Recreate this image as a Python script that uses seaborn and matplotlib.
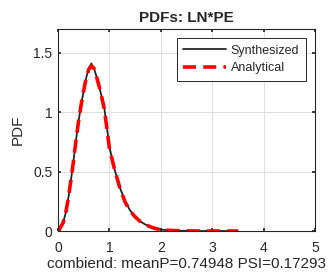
import numpy as np
import pandas as pd
import matplotlib
matplotlib.use("Agg")
import matplotlib.pyplot as plt
import seaborn as sns

# values
x_vals = [0.0, 0.05, 0.1, 0.15, 0.2, 0.25, 0.3, 0.35, 0.4, 0.45, 0.5, 0.55, 0.6, 0.65,
          0.7, 0.75, 0.8, 0.85, 0.9, 0.95, 1.0, 1.1, 1.2, 1.3, 1.4, 1.5, 1.6, 1.7,
          1.8, 1.9, 2.0, 2.2, 2.4, 2.6, 2.8, 3.0, 3.2, 3.5]
pdf_synth = [0.0, 0.03, 0.07, 0.15, 0.27, 0.42, 0.58, 0.76, 0.92, 1.06, 1.18, 1.29, 1.37, 1.41,
             1.37, 1.30, 1.22, 1.13, 1.04, 0.88, 0.71, 0.52, 0.37, 0.26, 0.175, 0.12, 0.08, 0.055,
             0.035, 0.021, 0.012, 0.005, 0.002, 0.001, 0.0, 0.0, 0.0, 0.0]
pdf_analytic = [0.0, 0.03, 0.07, 0.15, 0.27, 0.42, 0.58, 0.76, 0.92, 1.06, 1.18, 1.29, 1.36, 1.39,
                1.37, 1.30, 1.22, 1.13, 1.03, 0.87, 0.70, 0.52, 0.37, 0.25, 0.17, 0.12, 0.08, 0.055,
                0.035, 0.02, 0.012, 0.005, 0.002, 0.001, 0.0, 0.0, 0.0, 0.0]

mean_p = 0.74948
psi = 0.17293

sns.set_theme(style="whitegrid")
plt.rcParams['font.family'] = ['Liberation Sans', 'DejaVu Sans']

df = pd.DataFrame({"x": x_vals, "synth": pdf_synth, "analytic": pdf_analytic})

fig = plt.figure(figsize=(3.33, 2.79), dpi=100)
ax = fig.add_axes([0.174, 0.172, 0.772, 0.724])

sns.lineplot(data=df, x="x", y="synth", ax=ax, color="#262626", linewidth=1.3,
             label="Synthesized")
sns.lineplot(data=df, x="x", y="analytic", ax=ax, color="red", linewidth=2.6,
             label="Analytical")
ax.lines[1].set_dashes([3.6, 2.0])

ax.set_xlim(0, 5)
ax.set_ylim(0, 1.7)
ax.set_xticks([0, 1, 2, 3, 4, 5])
ax.set_yticks([0, 0.5, 1, 1.5])
ax.set_yticklabels(["0", "0.5", "1", "1.5"])

ax.set_facecolor("white")
ax.grid(True, color="#dedede", linewidth=0.7)
for side in ax.spines.values():
    side.set_visible(True)
    side.set_color("#262626")
    side.set_linewidth(0.8)
ax.tick_params(axis="both", labelsize=10, colors="#262626", length=2.5, direction="in",
               left=True, bottom=True, top=True, right=True)
ax.tick_params(axis="x", pad=7)
ax.tick_params(axis="y", pad=4)

ax.set_title("PDFs: LN*PE", fontsize=11, fontweight="bold", pad=5)
ax.set_ylabel("PDF", fontsize=11, color="#262626", labelpad=6)
ax.set_xlabel(f"combiend: meanP={mean_p:.5f} PSI={psi:.5f}", fontsize=11,
              color="#262626", labelpad=1.5)

leg = ax.legend(loc="upper right", fontsize=9, frameon=True, fancybox=False,
                handlelength=3.4, borderpad=0.55, labelspacing=0.45, handletextpad=0.4,
                borderaxespad=0.7)
leg.get_frame().set_edgecolor("#262626")
leg.get_frame().set_linewidth(0.7)
leg.get_frame().set_alpha(1)

fig.savefig("out.png", dpi=100)
